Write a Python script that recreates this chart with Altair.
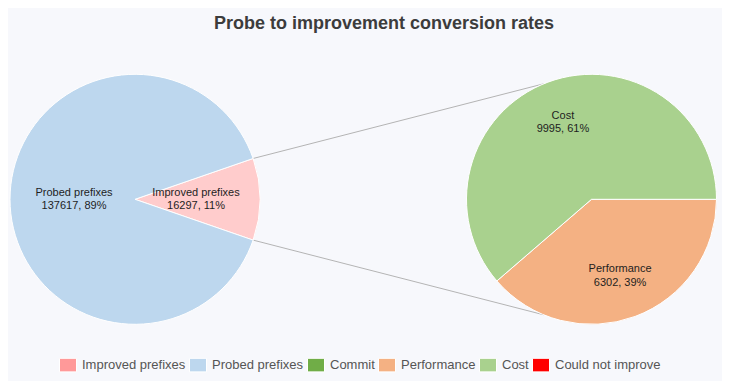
import math
import altair as alt
import pandas as pd

# ---------------- data ----------------
outer_labels = ["Improved prefixes", "Probed prefixes"]
outer_values = [16297, 137617]
inner_labels = ["Performance", "Cost"]
inner_values = [6302, 9995]

legend_labels = ["Improved prefixes", "Probed prefixes", "Commit",
                 "Performance", "Cost", "Could not improve"]
legend_colors = ["#ff9999", "#bdd7ee", "#70ad47", "#f4b183", "#a9d18e", "#ff0000"]
slice_colors = {"Improved prefixes": "#ffcccc", "Probed prefixes": "#bdd7ee",
                "Performance": "#f4b183", "Cost": "#a9d18e"}

title_text = "Probe to improvement conversion rates"

# ---------------- layout (view pixels) ----------------
W, H = 714, 339
R = 125
CX = [127.0, 583.5]
CY = 157.3
LABEL_R = [61.0, 82.0]
LINK_ANGLES = [337.5, 202.5]  # where connectors meet the right pie (deg)
LINE_H = 13.4


def pie(labels, values, start_deg, cx, label_r):
    total = float(sum(values))
    rows = []
    a = start_deg
    for lab, v in zip(labels, values):
        frac = v / total
        a0, a1 = a, a + frac * 360.0
        mid = math.radians((a0 + a1) / 2)
        rows.append(dict(
            name=lab, value=v,
            t0=math.radians(a0), t1=math.radians(a1),
            cx=cx, cy=CY, fill=slice_colors[lab],
            lx=cx + label_r * math.sin(mid), ly=CY - label_r * math.cos(mid),
            text=f"{lab}\n{v}, {round(frac * 100)}%",
        ))
        a = a1
    return rows


impr_frac = outer_values[0] / sum(outer_values)
left = pie(outer_labels, outer_values, 90 - impr_frac * 180, CX[0], LABEL_R[0])
right = pie(inner_labels, inner_values, 90, CX[1], LABEL_R[1])
pies = pd.DataFrame(left + right)

# connectors: from edges of the "Improved" slice to the right pie
edges = [left[0]["t0"], left[0]["t1"]]
links = pd.DataFrame([
    dict(x=CX[0] + R * math.sin(e), y=CY - R * math.cos(e),
         x2=CX[1] + R * math.sin(math.radians(b)), y2=CY - R * math.cos(math.radians(b)))
    for e, b in zip(edges, LINK_ANGLES)
])

legend_df = pd.DataFrame({"name": legend_labels})

xs = alt.Scale(domain=[0, W], nice=False, zero=False)
ys = alt.Scale(domain=[0, H], nice=False, zero=False, reverse=True)

arcs = alt.Chart(pies).mark_arc(outerRadius=R, stroke="white", strokeWidth=1).encode(
    x=alt.X("cx:Q", scale=xs, axis=None),
    y=alt.Y("cy:Q", scale=ys, axis=None),
    theta=alt.Theta("t0:Q", scale=None, stack=None),
    theta2="t1:Q",
    color=alt.Color("fill:N", scale=None),
)

labels = alt.Chart(pies).mark_text(
    font="Liberation Sans", fontSize=11, color="#1e1e1e", lineBreak="\n",
    lineHeight=LINE_H, align="center", baseline="middle", dy=-LINE_H / 2,
).encode(
    x=alt.X("lx:Q", scale=xs, axis=None),
    y=alt.Y("ly:Q", scale=ys, axis=None),
    text="text:N",
)

rules = alt.Chart(links).mark_rule(color="#b4b4b4", strokeWidth=1).encode(
    x=alt.X("x:Q", scale=xs, axis=None),
    y=alt.Y("y:Q", scale=ys, axis=None),
    x2="x2:Q", y2="y2:Q",
)

legend_layer = alt.Chart(legend_df).mark_square(opacity=0).encode(
    color=alt.Color(
        "name:N",
        scale=alt.Scale(domain=legend_labels, range=legend_colors),
        sort=legend_labels,
        legend=alt.Legend(
            title=None, orient="none", legendX=51, legendY=314,
            direction="horizontal",
            symbolType="M-1,-0.8H1V0.8H-1Z", symbolSize=289,
            symbolStrokeColor="#c4c4c4", symbolStrokeWidth=1, symbolOpacity=1,
            labelFont="Liberation Sans", labelFontSize=13, labelColor="#555555",
            labelOffset=5, columnPadding=1, padding=0, labelLimit=0,
        ),
    )
)

chart = alt.layer(rules, arcs, labels, legend_layer).properties(
    width=W, height=H,
    padding={"top": 7, "left": 0, "right": 0, "bottom": 0},
    background="#f7f8fc",
    title=alt.TitleParams(
        title_text, font="Liberation Sans", fontSize=18, fontWeight="bold",
        color="#3c3c3c", anchor="middle", dx=19, offset=9,
    ),
).configure_view(stroke=None)

chart.save("out.html", embed_options={"renderer": "svg", "actions": False})
